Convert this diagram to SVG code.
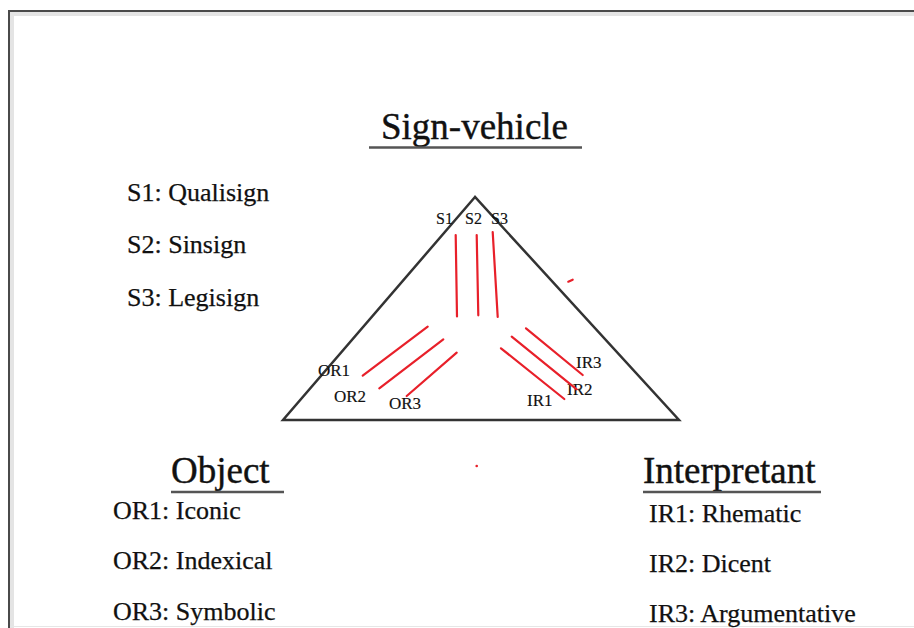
<svg xmlns="http://www.w3.org/2000/svg" width="914" height="628" viewBox="0 0 914 628">
<style>
text{font-family:"Liberation Serif","Times New Roman",serif;fill:#111;stroke:#111;stroke-width:0.25}
.h{font-size:37px;stroke-width:0.4}
.l{font-size:26px}
.s{font-size:17px;stroke-width:0.15}
.t{font-size:16px;stroke-width:0.15}
.ul{stroke:#555;stroke-width:2.5}
.red{stroke:#e8202a;stroke-width:2.2;stroke-linecap:round;fill:none}
</style>
<rect width="914" height="628" fill="#fff"/>
<g id="page">
<path d="M10 628 V12 H914" fill="none" stroke="#e4e4e4" stroke-width="4" transform="translate(2,2)"/>
<path d="M9 628 V11 H914" fill="none" stroke="#4a4a4a" stroke-width="2"/>
<line x1="10" y1="626.5" x2="914" y2="626.5" stroke="#e6e6e6" stroke-width="1"/>
</g>
<g id="sign-vehicle">
<text class="h" x="381" y="139">Sign-vehicle</text>
<line class="ul" x1="369" y1="147.5" x2="582" y2="147.5"/>
<text class="l" x="127" y="201">S1: Qualisign</text>
<text class="l" x="127" y="253">S2: Sinsign</text>
<text class="l" x="127" y="306">S3: Legisign</text>
</g>
<g id="object">
<text class="h" x="171" y="483">Object</text>
<line class="ul" x1="171" y1="492" x2="284" y2="492"/>
<text class="l" x="113" y="519">OR1: Iconic</text>
<text class="l" x="113" y="569">OR2: Indexical</text>
<text class="l" x="113" y="620">OR3: Symbolic</text>
</g>
<g id="interpretant">
<text class="h" x="643" y="483">Interpretant</text>
<line class="ul" x1="643" y1="492" x2="821" y2="492"/>
<text class="l" x="649" y="522">IR1: Rhematic</text>
<text class="l" x="649" y="572">IR2: Dicent</text>
<text class="l" x="649" y="622">IR3: Argumentative</text>
</g>
<g id="triangle">
<polygon points="475,197 283,420 679,420" fill="none" stroke="#333" stroke-width="2.5" stroke-linejoin="miter"/>
<text class="t" x="436" y="224">S1</text>
<text class="t" x="465" y="224">S2</text>
<text class="t" x="491" y="224">S3</text>
<text class="s" x="318" y="376">OR1</text>
<text class="s" x="334" y="402">OR2</text>
<text class="s" x="389" y="409">OR3</text>
<text class="s" x="527" y="406">IR1</text>
<text class="s" x="567" y="395">IR2</text>
<text class="s" x="576" y="368">IR3</text>
</g>
<g id="connectors">
<line class="red" x1="455.7" y1="235" x2="457" y2="316.5"/>
<line class="red" x1="476.7" y1="235" x2="478.3" y2="315.3"/>
<line class="red" x1="492.7" y1="232" x2="497.7" y2="317"/>
<line class="red" x1="427.7" y1="326.7" x2="362.7" y2="375.7"/>
<line class="red" x1="443.3" y1="339.3" x2="379.3" y2="388.3"/>
<line class="red" x1="456.7" y1="352.7" x2="406.7" y2="396"/>
<line class="red" x1="501" y1="348.3" x2="564.3" y2="399"/>
<line class="red" x1="511.7" y1="336.7" x2="576.7" y2="389.3"/>
<line class="red" x1="526" y1="328.3" x2="582.7" y2="375"/>
<line class="red" x1="568.3" y1="281.7" x2="572.7" y2="279.7"/>
<circle cx="476.7" cy="466" r="1.3" fill="#e8202a"/>
</g>
</svg>
